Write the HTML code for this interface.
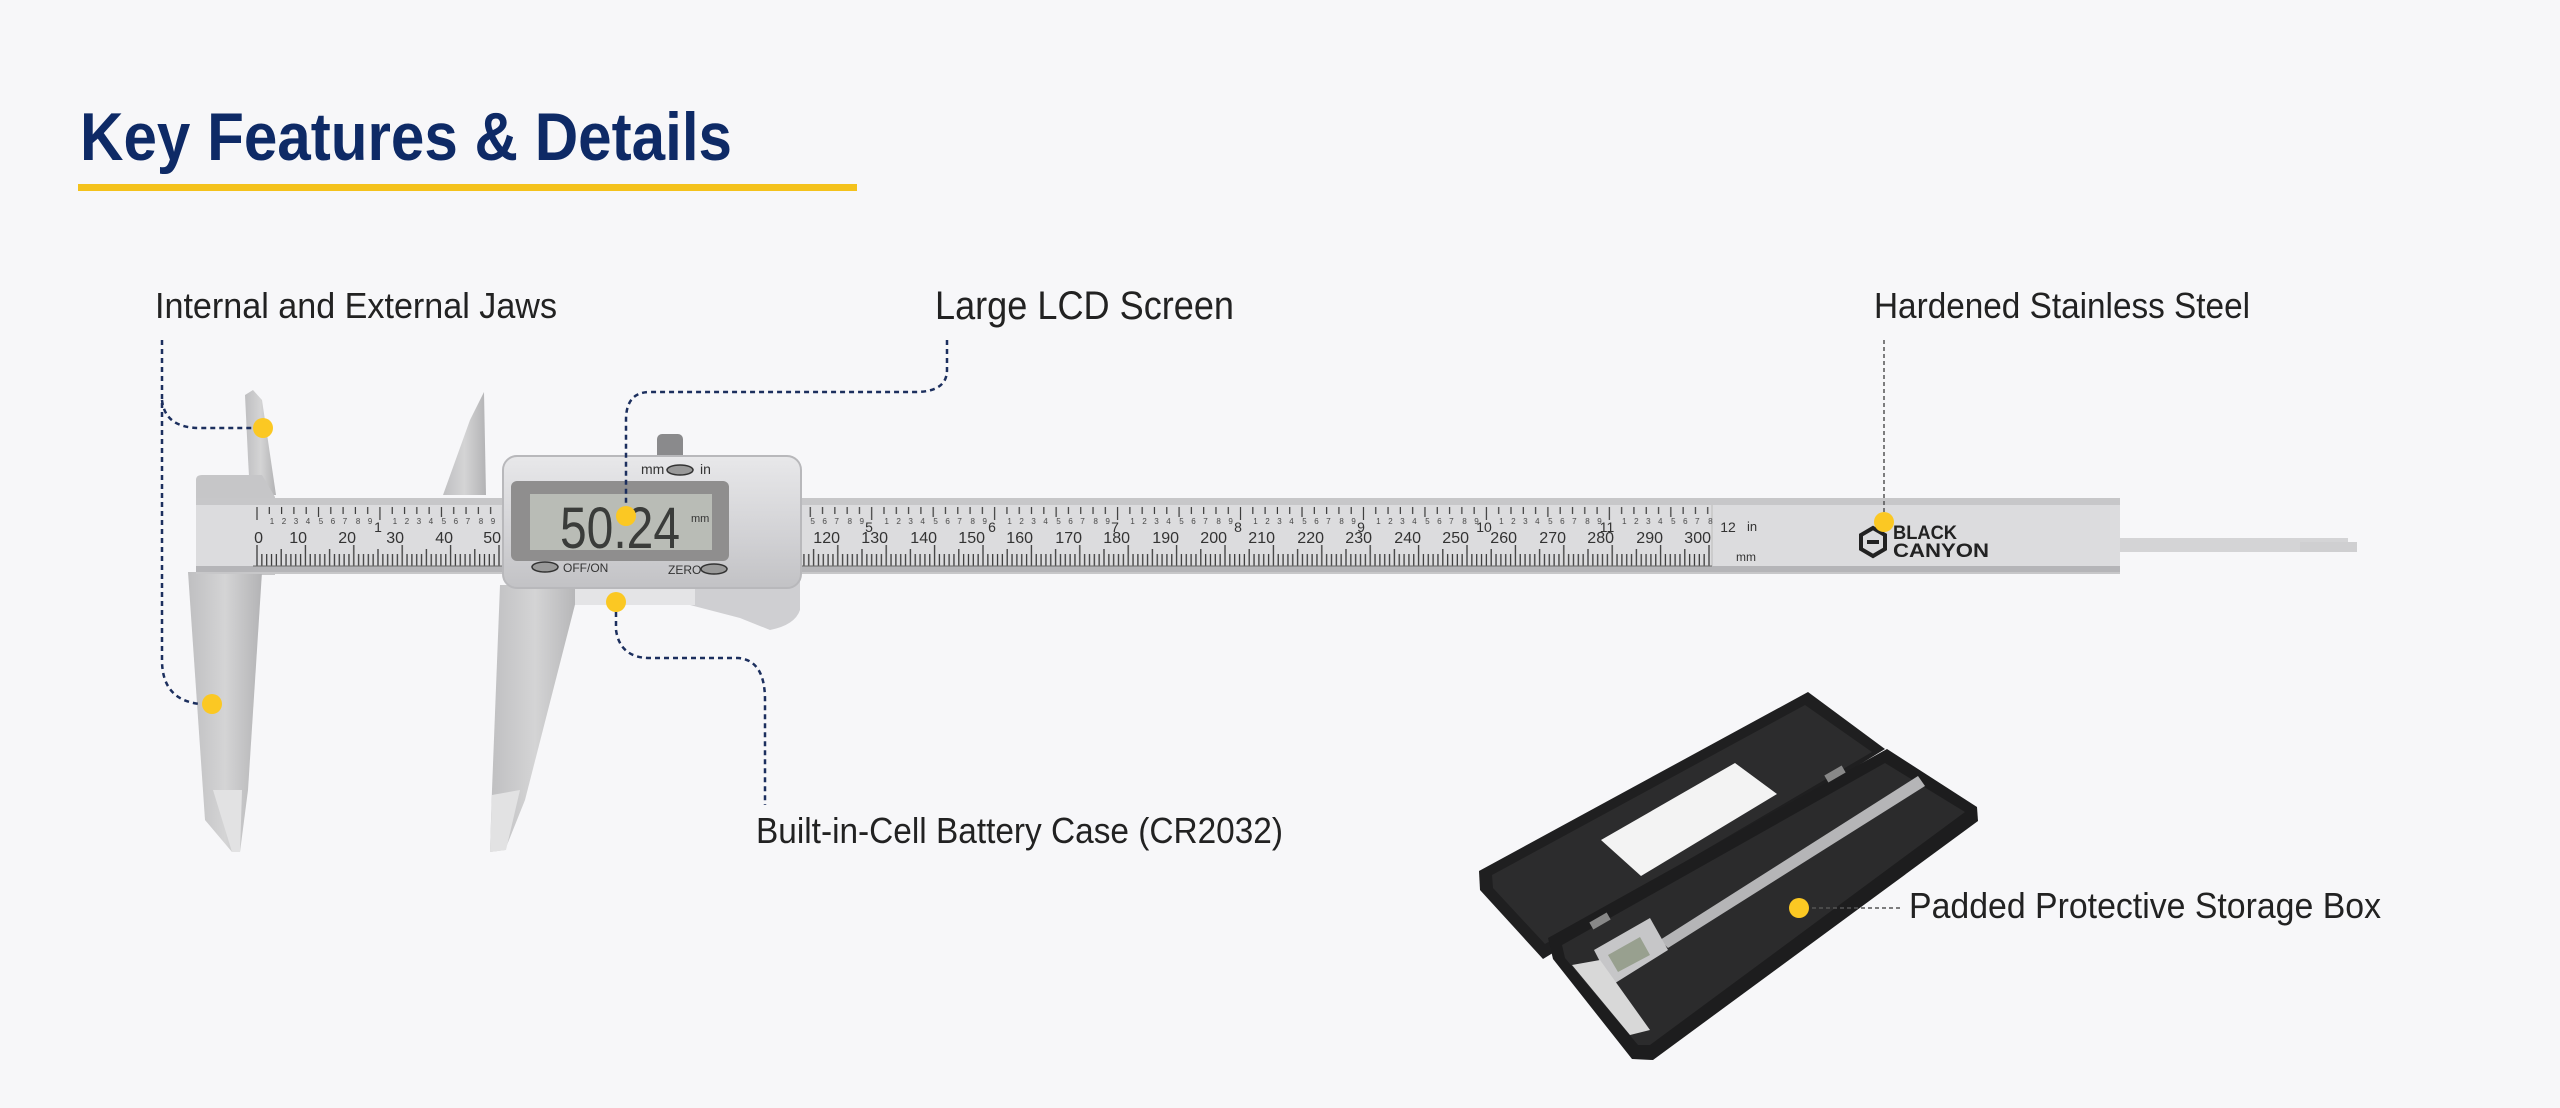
<!DOCTYPE html>
<html><head><meta charset="utf-8"><style>
html,body{margin:0;padding:0;background:#f7f7f9;}
svg{display:block;}
</style></head><body>
<svg width="2560" height="1108" viewBox="0 0 2560 1108" xmlns="http://www.w3.org/2000/svg" font-family="Liberation Sans, sans-serif">
<defs>
<linearGradient id="steel" x1="0" y1="0" x2="0" y2="1"><stop offset="0" stop-color="#d6d6d8"/><stop offset="1" stop-color="#bdbdc0"/></linearGradient>
<linearGradient id="jaw" x1="0" y1="0" x2="1" y2="0"><stop offset="0" stop-color="#bfbfc1"/><stop offset="0.5" stop-color="#d4d4d5"/><stop offset="1" stop-color="#b3b3b5"/></linearGradient>
<linearGradient id="body" x1="0" y1="0" x2="0" y2="1"><stop offset="0" stop-color="#e8e8ea"/><stop offset="0.6" stop-color="#d2d2d5"/><stop offset="1" stop-color="#c2c2c5"/></linearGradient>
<pattern id="mm" patternUnits="userSpaceOnUse" x="256" y="0" width="48.4" height="600">
<g stroke="#3a3a3a" stroke-width="1.3">
<line x1="1" y1="545" x2="1" y2="566"/><line x1="5.84" y1="554" x2="5.84" y2="566"/><line x1="10.68" y1="554" x2="10.68" y2="566"/><line x1="15.52" y1="554" x2="15.52" y2="566"/><line x1="20.36" y1="554" x2="20.36" y2="566"/><line x1="25.2" y1="549" x2="25.2" y2="566"/><line x1="30.04" y1="554" x2="30.04" y2="566"/><line x1="34.88" y1="554" x2="34.88" y2="566"/><line x1="39.72" y1="554" x2="39.72" y2="566"/><line x1="44.56" y1="554" x2="44.56" y2="566"/></g></pattern>
<pattern id="inch" patternUnits="userSpaceOnUse" x="256" y="0" width="122.94" height="600">
<g stroke="#3a3a3a" stroke-width="1.2">
<line x1="1" y1="507" x2="1" y2="520"/><line x1="13.3" y1="507" x2="13.3" y2="514"/><line x1="25.6" y1="507" x2="25.6" y2="514"/><line x1="37.9" y1="507" x2="37.9" y2="514"/><line x1="50.2" y1="507" x2="50.2" y2="514"/><line x1="62.5" y1="507" x2="62.5" y2="517"/><line x1="74.8" y1="507" x2="74.8" y2="514"/><line x1="87.1" y1="507" x2="87.1" y2="514"/><line x1="99.4" y1="507" x2="99.4" y2="514"/><line x1="111.7" y1="507" x2="111.7" y2="514"/></g>
<g font-size="8" fill="#444" text-anchor="middle"><text x="16" y="524">1</text><text x="28" y="524">2</text><text x="40" y="524">3</text><text x="52" y="524">4</text><text x="65" y="524">5</text><text x="77" y="524">6</text><text x="89" y="524">7</text><text x="102" y="524">8</text><text x="114" y="524">9</text></g>
</pattern>
</defs>
<rect width="2560" height="1108" fill="#f7f7f9"/>

<!-- title -->
<text x="80" y="160" font-size="68" font-weight="bold" fill="#0e2a66" textLength="652" lengthAdjust="spacingAndGlyphs">Key Features &amp; Details</text>
<rect x="78" y="184" width="779" height="7" fill="#f4c21c"/>

<!-- labels -->
<g fill="#222" font-size="36">
<text x="155" y="318" textLength="402" lengthAdjust="spacingAndGlyphs">Internal and External Jaws</text>
<text x="935" y="319" font-size="40" textLength="299" lengthAdjust="spacingAndGlyphs">Large LCD Screen</text>
<text x="1874" y="318" textLength="376" lengthAdjust="spacingAndGlyphs">Hardened Stainless Steel</text>
<text x="756" y="843" textLength="527" lengthAdjust="spacingAndGlyphs">Built-in-Cell Battery Case (CR2032)</text>
<text x="1909" y="918" textLength="472" lengthAdjust="spacingAndGlyphs">Padded Protective Storage Box</text>
</g>

<!-- depth rod -->
<rect x="2118" y="538" width="230" height="14" fill="#d4d4d6"/>
<rect x="2300" y="542" width="57" height="10" fill="#cfcfd1"/>

<!-- fixed jaw upper -->
<polygon points="245,395 253,390 262,400 276,495 250,495 248,458" fill="url(#jaw)"/>
<!-- sliding jaw upper -->
<polygon points="443,495 470,420 484,392 486,495" fill="url(#jaw)"/>
<!-- head -->
<path d="M196,480 Q196,475 202,475 L262,475 L275,497 L275,575 L196,575 Z" fill="#c6c6c8"/>
<!-- fixed lower jaw -->
<polygon points="188,572 262,572 248,790 240,852 232,852 205,820" fill="url(#jaw)"/>
<polygon points="213,790 242,790 240,852 232,852" fill="#e2e2e3"/>
<!-- sliding lower jaw -->
<polygon points="500,585 580,585 525,800 505,850 490,852 492,790" fill="url(#jaw)"/>
<polygon points="492,795 520,790 506,850 490,852" fill="#e2e2e3"/>

<!-- beam -->
<rect x="196" y="498" width="1924" height="76" fill="#c7c7c9"/>
<rect x="196" y="505" width="1924" height="62" fill="#dcdcde"/>
<rect x="196" y="566" width="1924" height="6" fill="#b5b5b8"/>
<line x1="1712" y1="505" x2="1712" y2="567" stroke="#bbb" stroke-width="1"/>
<rect x="253" y="500" width="1460" height="70" fill="url(#mm)"/>
<rect x="253" y="500" width="1460" height="30" fill="url(#inch)"/>
<line x1="253" y1="566" x2="1712" y2="566" stroke="#666" stroke-width="1"/>
<g font-size="16" fill="#333" text-anchor="end">
<text x="263" y="543">0</text><text x="307" y="543">10</text><text x="356" y="543">20</text><text x="404" y="543">30</text><text x="453" y="543">40</text><text x="501" y="543">50</text>
<text x="840" y="543">120</text><text x="888" y="543">130</text><text x="937" y="543">140</text><text x="985" y="543">150</text><text x="1033" y="543">160</text><text x="1082" y="543">170</text><text x="1130" y="543">180</text><text x="1179" y="543">190</text><text x="1227" y="543">200</text><text x="1275" y="543">210</text><text x="1324" y="543">220</text><text x="1372" y="543">230</text><text x="1421" y="543">240</text><text x="1469" y="543">250</text><text x="1517" y="543">260</text><text x="1566" y="543">270</text><text x="1614" y="543">280</text><text x="1663" y="543">290</text><text x="1711" y="543">300</text>
</g>
<g font-size="14" fill="#333" text-anchor="middle">
<text x="378" y="532">1</text><text x="869" y="532">5</text><text x="992" y="532">6</text><text x="1115" y="532">7</text><text x="1238" y="532">8</text><text x="1361" y="532">9</text><text x="1484" y="532">10</text><text x="1607" y="532">11</text><text x="1728" y="532">12</text>
</g>
<text x="1747" y="531" font-size="13" fill="#333">in</text>
<text x="1736" y="561" font-size="12" fill="#333">mm</text>
<!-- logo -->
<polygon points="1873,528 1885,535 1885,549 1873,556 1861,549 1861,535" fill="none" stroke="#222" stroke-width="4"/>
<rect x="1867" y="540" width="12" height="4" fill="#222"/>
<text x="1893" y="539" font-size="19" font-weight="bold" fill="#222" textLength="64" lengthAdjust="spacingAndGlyphs">BLACK</text>
<text x="1893" y="557" font-size="19" font-weight="bold" fill="#222" textLength="96" lengthAdjust="spacingAndGlyphs">CANYON</text>

<!-- slider -->
<rect x="657" y="434" width="26" height="26" rx="5" fill="#8a8a8c"/>
<path d="M580,580 L800,580 L800,610 Q795,625 770,630 L740,618 L690,605 L580,605 Z" fill="#cfcfd2"/>
<rect x="575" y="585" width="120" height="20" fill="#e4e4e6"/>
<rect x="503" y="456" width="298" height="132" rx="14" fill="url(#body)" stroke="#b8b8bb" stroke-width="2"/>
<rect x="511" y="481" width="218" height="80" rx="6" fill="#8f8e8e"/>
<rect x="530" y="494" width="182" height="56" fill="#b9bcb6"/>
<text x="620" y="548" font-size="58" fill="#3a3c3a" text-anchor="middle" textLength="120" lengthAdjust="spacingAndGlyphs">50.24</text>
<text x="691" y="522" font-size="11" fill="#333">mm</text>
<text x="641" y="474" font-size="14" fill="#333">mm</text>
<ellipse cx="680" cy="470" rx="13" ry="5" fill="#999" stroke="#333" stroke-width="1.5"/>
<text x="700" y="474" font-size="14" fill="#333">in</text>
<ellipse cx="545" cy="567" rx="13" ry="5" fill="#999" stroke="#333" stroke-width="1.5"/>
<text x="563" y="572" font-size="12" fill="#333">OFF/ON</text>
<text x="668" y="574" font-size="12" fill="#333">ZERO</text>
<ellipse cx="714" cy="569" rx="13" ry="5" fill="#999" stroke="#333" stroke-width="1.5"/>

<!-- storage box -->
<polygon points="1479,871 1808,692 1885,749 1543,959 1480,890" fill="#1f1f20"/>
<polygon points="1492,875 1805,705 1872,752 1545,944 1493,888" fill="#2c2c2d"/>
<polygon points="1548,938 1887,749 1977,807 1978,821 1653,1060 1632,1059 1553,959" fill="#1d1d1e"/>
<polygon points="1562,945 1885,763 1965,812 1650,1045 1638,1045 1565,958" fill="#2b2b2c"/>
<polygon points="1601,840 1735,763 1777,794 1641,876" fill="#f3f3f3"/>
<polygon points="1918,776 1925,786 1668,948 1660,940" fill="#b5b5b7"/>
<polygon points="1594,950 1650,918 1668,950 1612,985" fill="#c6c6c8"/>
<polygon points="1608,955 1640,937 1650,955 1618,972" fill="#98a08f"/>
<polygon points="1572,965 1600,960 1650,1030 1630,1035" fill="#d8d8d8"/>
<rect x="1590" y="917" width="20" height="8" fill="#888" transform="rotate(-30 1600 921)"/>
<rect x="1825" y="770" width="20" height="8" fill="#888" transform="rotate(-30 1835 774)"/>

<!-- connectors -->
<g fill="none" stroke="#1c2f5e" stroke-width="2.5" stroke-dasharray="5 4">
<path d="M162,340 L162,660 Q162,700 200,704"/>
<path d="M162,400 Q165,428 200,428 L255,428"/>
<path d="M947,340 L947,370 Q947,392 915,392 L650,392 Q626,392 626,420 L626,516"/>
<path d="M616,603 L616,630 Q620,658 650,658 L738,658 Q765,660 765,700 L765,805"/>
</g>
<g fill="none" stroke="#555" stroke-width="1.5" stroke-dasharray="4 3">
<path d="M1884,340 L1884,515"/>
<path d="M1812,908 L1900,908"/>
</g>
<!-- dots -->
<g fill="#fbc823">
<circle cx="263" cy="428" r="10"/><circle cx="212" cy="704" r="10"/>
<circle cx="626" cy="516" r="10"/><circle cx="616" cy="602" r="10"/>
<circle cx="1884" cy="522" r="10"/><circle cx="1799" cy="908" r="10"/>
</g>
</svg>
</body></html>
